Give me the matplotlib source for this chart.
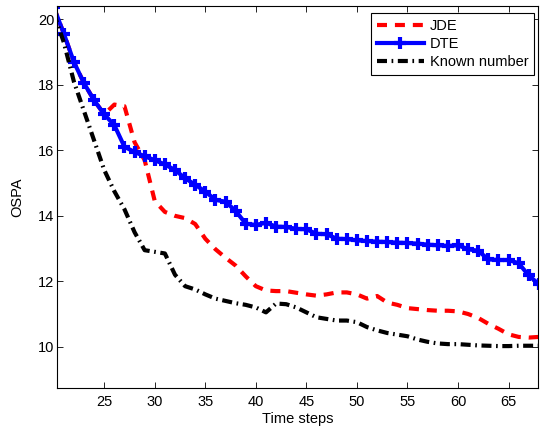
import matplotlib
matplotlib.use('Agg')
import matplotlib.pyplot as plt

plt.rcParams['font.family'] = ['Liberation Sans', 'DejaVu Sans']
plt.rcParams['font.size'] = 10.5

# time axis
t = list(range(20, 69))

# OSPA values
dte = [20.38, 19.57, 18.70, 18.05, 17.53, 17.10, 16.77, 16.11, 15.95, 15.82,
       15.70, 15.57, 15.40, 15.15, 14.95, 14.74, 14.49, 14.43, 14.15, 13.76,
       13.72, 13.79, 13.67, 13.66, 13.60, 13.59, 13.45, 13.44, 13.30, 13.29,
       13.25, 13.23, 13.21, 13.20, 13.18, 13.17, 13.15, 13.12, 13.10, 13.08,
       13.10, 12.98, 12.93, 12.67, 12.65, 12.65, 12.55, 12.18, 11.91]

jde = [20.38, 19.57, 18.70, 18.05, 17.53, 17.10, 17.40, 17.35, 16.25, 15.70,
       14.45, 14.12, 14.00, 13.93, 13.75, 13.30, 12.98, 12.72, 12.48, 12.15,
       11.85, 11.72, 11.70, 11.70, 11.65, 11.60, 11.56, 11.60, 11.66, 11.66,
       11.60, 11.47, 11.55, 11.35, 11.28, 11.18, 11.15, 11.12, 11.10, 11.10,
       11.08, 11.00, 10.88, 10.70, 10.55, 10.38, 10.30, 10.28, 10.30]

known = [20.20, 19.30, 18.10, 17.20, 16.30, 15.40, 14.75, 14.20, 13.50, 12.95,
         12.90, 12.85, 12.20, 11.85, 11.75, 11.60, 11.47, 11.40, 11.33, 11.28,
         11.20, 11.05, 11.32, 11.30, 11.20, 11.05, 10.90, 10.85, 10.80, 10.80,
         10.75, 10.60, 10.50, 10.42, 10.37, 10.32, 10.22, 10.15, 10.10, 10.08,
         10.08, 10.06, 10.04, 10.03, 10.02, 10.02, 10.03, 10.03, 10.03]

fig = plt.figure(figsize=(5.4, 4.33), dpi=100)
ax = fig.add_axes([0.106, 0.104, 0.890, 0.882])

ax.plot(t, jde, color='red', linewidth=3, dashes=(2.4, 1.9), label='JDE')
ax.plot(t, dte, color='blue', linewidth=3, marker='+', markersize=8,
        markeredgewidth=3, label='DTE')
ax.plot(t, known, color='black', linewidth=3, dashes=(2.4, 1.1, 0.4, 1.1),
        label='Known number')

ax.set_xlim(20.35, 67.9)
ax.set_ylim(8.74, 20.41)
ax.set_xticks([25, 30, 35, 40, 45, 50, 55, 60, 65])
ax.set_yticks([10, 12, 14, 16, 18, 20])
ax.tick_params(direction='in', top=True, right=True, length=4, width=0.6)
ax.tick_params(axis='x', pad=5)
ax.tick_params(axis='y', pad=2)
for s in ax.spines.values():
    s.set_linewidth(0.8)

ax.set_xlabel('Time steps', labelpad=2)
ax.set_ylabel('OSPA', labelpad=10)

leg = ax.legend(loc='upper right', fancybox=False, framealpha=1,
                edgecolor='black', handlelength=3.2, borderpad=0.4,
                labelspacing=0.28, handletextpad=0.4, borderaxespad=0,
                bbox_to_anchor=(0.992, 0.982))
leg.get_frame().set_linewidth(0.8)

fig.savefig('out.png', dpi=100)
